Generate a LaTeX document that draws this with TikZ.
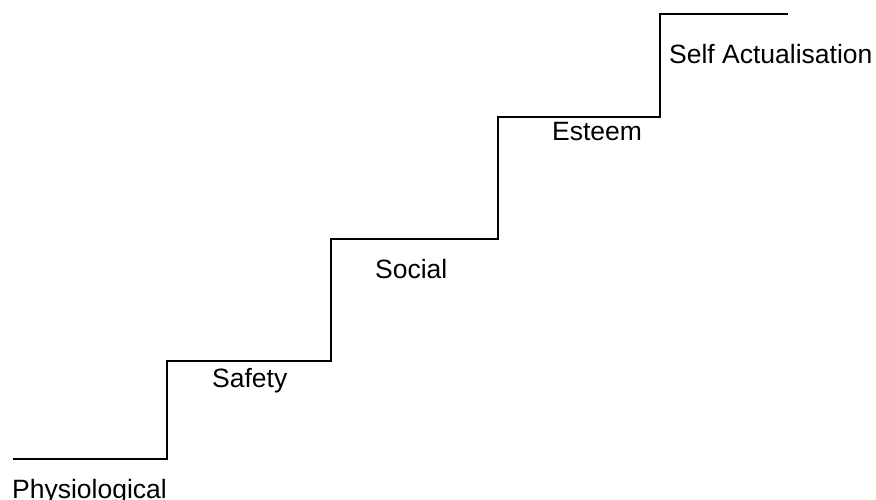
\documentclass[tikz,border=0pt]{standalone}
\usepackage{fontspec}
\setmainfont{Liberation Sans}
\begin{document}
\begin{tikzpicture}[x=1pt,y=-1pt,
  stairline/.style={line width=2pt,line join=miter,black},
  steplabel/.style={anchor=base west,inner sep=0pt,font=\fontsize{26.5}{30}\selectfont}]
\useasboundingbox (0,0) rectangle (876,499);
% corners of the staircase
\coordinate (s0) at (13,459);
\coordinate (s1) at (167,459);
\coordinate (s2) at (167,361);
\coordinate (s3) at (331,361);
\coordinate (s4) at (331,239);
\coordinate (s5) at (498,239);
\coordinate (s6) at (498,117);
\coordinate (s7) at (660,117);
\coordinate (s8) at (660,14);
\coordinate (s9) at (788,14);
\draw[stairline] (s0) -- (s1) -- (s2) -- (s3) -- (s4) -- (s5) -- (s6) -- (s7) -- (s8) -- (s9);
% level labels
\node[steplabel] (phys) at (12,498) {Physiological};
\node[steplabel] (safe) at (212,387) {Safety};
\node[steplabel] (soc) at (375,278) {Social};
\node[steplabel] (est) at (552,140) {Esteem};
\node[steplabel] (self) at (669,63) {Self Actualisation};
\end{tikzpicture}
\end{document}
